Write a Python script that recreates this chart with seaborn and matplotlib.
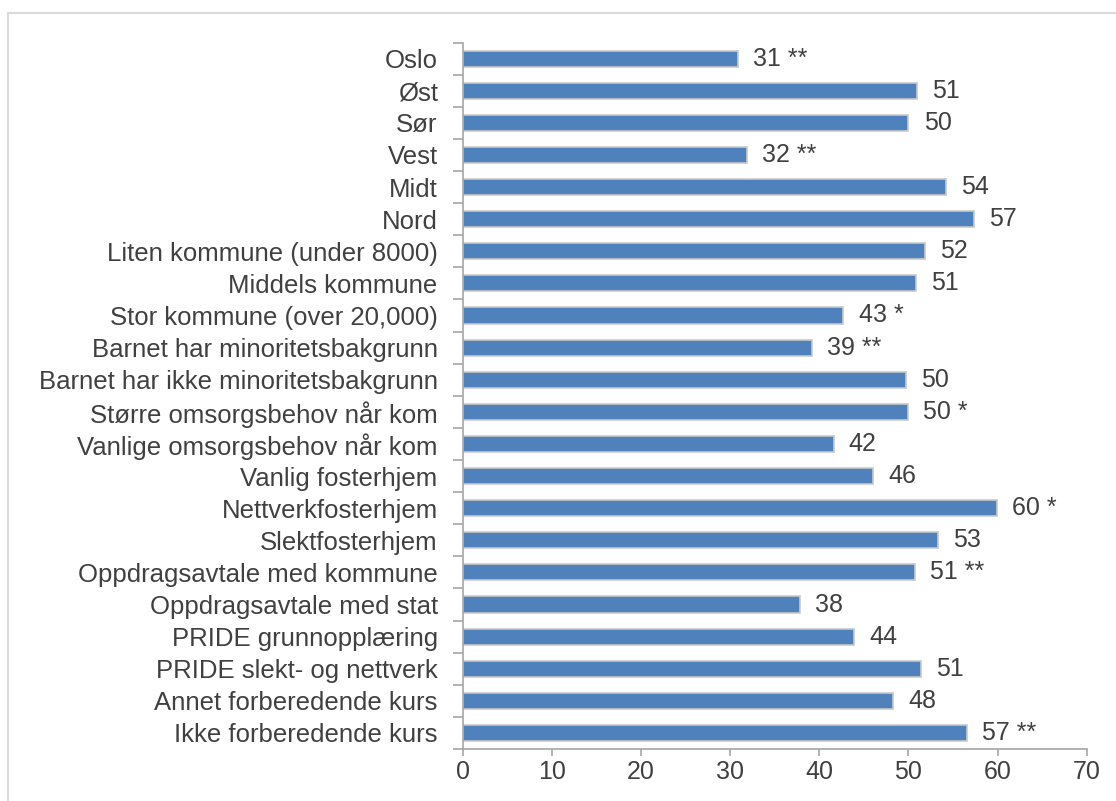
import numpy as np
import pandas as pd
import matplotlib
matplotlib.use("Agg")
import matplotlib.pyplot as plt
from matplotlib.patches import Rectangle
import seaborn as sns

# data
groups = ["Oslo", "Øst", "Sør", "Vest", "Midt", "Nord",
          "Liten kommune (under 8000)", "Middels kommune", "Stor kommune (over 20,000)",
          "Barnet har minoritetsbakgrunn", "Barnet har ikke minoritetsbakgrunn",
          "Større omsorgsbehov når kom", "Vanlige omsorgsbehov når kom",
          "Vanlig fosterhjem", "Nettverkfosterhjem", "Slektfosterhjem",
          "Oppdragsavtale med kommune", "Oppdragsavtale med stat",
          "PRIDE grunnopplæring", "PRIDE slekt- og nettverk",
          "Annet forberedende kurs", "Ikke forberedende kurs"]
values = [30.9, 51.0, 50.0, 31.9, 54.2, 57.3,
          51.8, 50.8, 42.7,
          39.2, 49.7,
          49.9, 41.6,
          46.0, 59.9, 53.3,
          50.7, 37.8,
          43.9, 51.4,
          48.3, 56.6]
stars = ["**", "", "", "**", "", "",
         "", "", "*",
         "**", "",
         "*", "",
         "", "*", "",
         "**", "",
         "", "",
         "", "**"]
xticks = [0, 10, 20, 30, 40, 50, 60, 70]

df = pd.DataFrame({"gruppe": groups, "andel": values})

sns.set_style("white")
plt.rcParams["font.family"] = ["Liberation Sans", "DejaVu Sans"]

txt = "#404040"
axcol = "#A6A6A6"
fs = 18

fig = plt.figure(figsize=(11.16, 8.01), dpi=100)
ax = fig.add_axes([0.4146, 0.0649, 0.9738 - 0.4146, 0.9469 - 0.0649])

sns.barplot(data=df, x="andel", y="gruppe", orient="h", color="#4F81BD",
            saturation=1, width=0.5, edgecolor="#C9C9C9", linewidth=1.2, ax=ax)

for i, (v, s) in enumerate(zip(values, stars)):
    lab = f"{v:.0f}" + (" " + s if s else "")
    ax.text(v + 1.7, i, lab, va="center", ha="left", fontsize=fs, color=txt)

ax.set_xlim(0, 70)
ax.set_ylim(len(groups) - 0.5, -0.5)
ax.set_xticks(xticks)
ax.set_xticklabels([str(t) for t in xticks])
ax.set_yticks(np.arange(len(groups)))
ax.set_yticklabels(groups)
ax.set_yticks(np.arange(len(groups) + 1) - 0.5, minor=True)
ax.tick_params(axis="y", which="major", left=True, length=0, pad=18, labelsize=18.5, labelcolor=txt)
ax.tick_params(axis="y", which="minor", left=True, length=7, width=1.2, color=axcol, direction="out")
ax.tick_params(axis="x", which="major", bottom=True, length=5, width=1.2, color=axcol, direction="out",
               labelsize=fs, labelcolor=txt, pad=3)
ax.set_xlabel("")
ax.set_ylabel("")

for side in ["top", "right"]:
    ax.spines[side].set_visible(False)
for side in ["left", "bottom"]:
    ax.spines[side].set_color(axcol)
    ax.spines[side].set_linewidth(1.2)

# light frame around the chart area
fig.patches.append(Rectangle((8 / 1116, -0.05), 1.2, 1 - 13 / 801 + 0.05,
                             transform=fig.transFigure, fill=False,
                             edgecolor="#D9D9D9", linewidth=1.5))

fig.savefig("out.png", dpi=100)
